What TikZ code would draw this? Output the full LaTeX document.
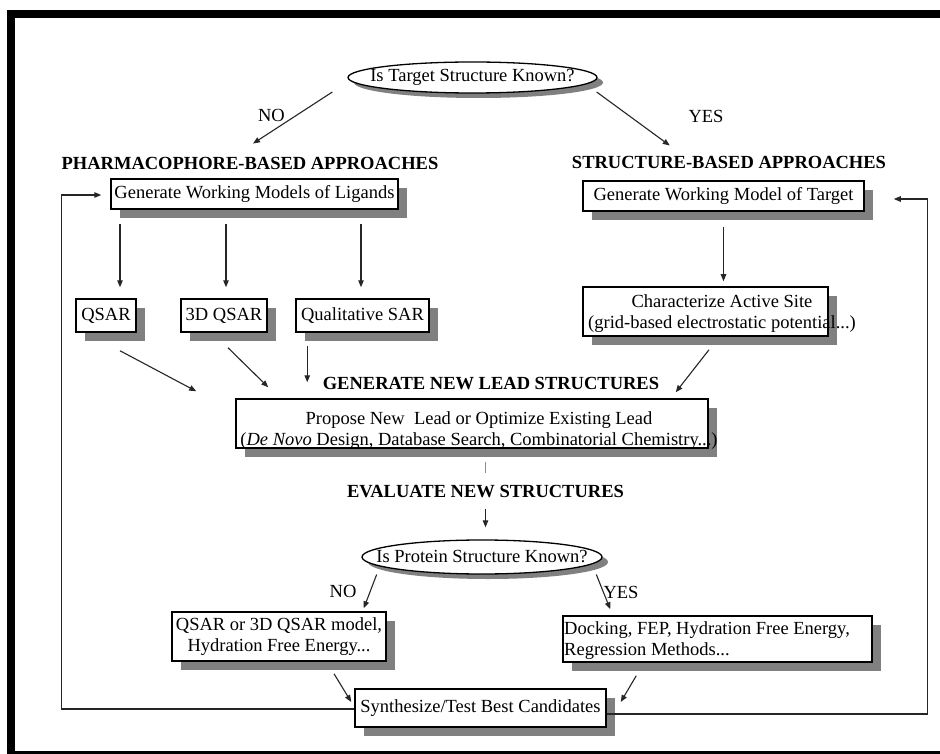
\documentclass[tikz,border=0pt]{standalone}
\usepackage{fontspec}
\setmainfont{Liberation Serif}
\usetikzlibrary{shapes.geometric,shadows,arrows.meta,calc}
\begin{document}
\begin{tikzpicture}[x=1pt,y=-1pt,
  font=\fontsize{18.5}{21}\selectfont,
  box/.style={rectangle, draw=black, line width=1.5pt, fill=white, inner sep=0pt,
    drop shadow={shadow xshift=9pt, shadow yshift=-9pt, fill=black!50, opacity=1}},
  ell/.style={ellipse, draw=black, line width=1.3pt, fill=white, inner sep=0pt,
    drop shadow={shadow xshift=6pt, shadow yshift=-5pt, fill=black!50, opacity=1}},
  head/.style={font=\fontsize{18.5}{21}\selectfont\bfseries, inner sep=0pt, anchor=base},
  lbl/.style={inner sep=0pt, anchor=base},
  txt/.style={inner sep=0pt},
  arr/.style={draw=black!85, line width=1.1pt, -{Triangle[length=7pt,width=5.5pt]}},
  gline/.style={draw=black!45, line width=1.1pt},
]
% page and frame
\fill[white] (0,0) rectangle (940,754);
\useasboundingbox (0,0) rectangle (940,754);
\fill[black] (7,10) rectangle (940,18);
\fill[black] (7,10) rectangle (15,754);
\fill[black] (7,751) rectangle (940,754);

% top question
\node[ell, minimum width=249pt, minimum height=31pt] (ell1) at (472.5,77.5) {\makebox[0pt]{Is Target Structure Known?}};
\node[lbl] (no1) at (271.5,122) {NO};
\node[lbl] (yes1) at (706,123) {YES};
\node[head] (pharm) at (250,170) {PHARMACOPHORE-BASED APPROACHES};
\node[head] (struct) at (729,169) {STRUCTURE-BASED APPROACHES};

% models
\node[box, minimum width=287pt, minimum height=30pt] (L1) at (254.5,194) {\makebox[0pt]{Generate Working Models of Ligands}};
\node[box, minimum width=281pt, minimum height=30pt] (R1) at (723.5,196) {\makebox[0pt]{Generate Working Model of Target}};

\node[box, minimum width=60pt, minimum height=33pt] (qsar) at (106,315.5) {\makebox[0pt]{QSAR}};
\node[box, minimum width=86pt, minimum height=33pt] (q3d) at (224,315.5) {\makebox[0pt]{3D QSAR}};
\node[box, minimum width=133pt, minimum height=33pt] (qual) at (362.5,315.5) {\makebox[0pt]{Qualitative SAR}};
\node[box, minimum width=245pt, minimum height=49pt] (char) at (705.5,311.5) {};
\node[txt] (chartxt) at (722,314) {\begin{tabular}{@{}c@{}}Characterize Active Site\\(grid-based electrostatic potential...)\end{tabular}};

% lead
\node[head] (genh) at (491,389) {GENERATE NEW LEAD STRUCTURES};
\node[box, minimum width=472pt, minimum height=49pt] (lead) at (472,423.5) {};
\node[txt] (leadtxt) at (479,431) {\begin{tabular}{@{}c@{}}Propose New\ \ Lead or Optimize Existing Lead\\(\textit{De Novo} Design, Database Search, Combinatorial Chemistry...)\end{tabular}};

% evaluation
\node[head, inner ysep=11.5pt] (evalh) at (485.5,497) {EVALUATE NEW STRUCTURES};
\node[ell, minimum width=240pt, minimum height=34pt] (ell2) at (482,557) {\makebox[0pt]{Is Protein Structure Known?}};
\node[lbl] (no2) at (343,597) {NO};
\node[lbl] (yes2) at (621,598) {YES};
\node[box, minimum width=214pt, minimum height=49pt] (nobox) at (279,636.5) {\makebox[0pt]{\begin{tabular}{@{}c@{}}QSAR or 3D QSAR model,\\Hydration Free Energy...\end{tabular}}};
\node[box, minimum width=309pt, minimum height=46pt] (yesbox) at (717.5,639) {};
\node[txt, anchor=west] (yestxt) at (564,641) {\begin{tabular}{@{}l@{}}Docking, FEP, Hydration Free Energy,\\Regression Methods...\end{tabular}};
\node[box, minimum width=251pt, minimum height=38pt] (synth) at (480.5,708) {\makebox[0pt]{Synthesize/Test Best Candidates}};

% connectors
\draw[arr] ($(ell1.west)+(-15,14.5)$) -- ($(pharm.north)+(3,-14)$);
\draw[arr] ($(ell1.east)+(-1,14.5)$) -- ($(struct.north west)+(98,-11)$);

\draw[arr] ($(L1.south -| qsar.north)+(14,14)$) -- ($(qsar.north)+(14,-11)$);
\draw[arr] ($(L1.south -| q3d.north)+(2,14)$) -- ($(q3d.north)+(2,-11)$);
\draw[arr] ($(L1.south -| qual.north)+(-1.5,14)$) -- ($(qual.north)+(-1.5,-11)$);
\draw[arr] ($(R1.south)+(0,15)$) -- ($(R1.south |- char.north)+(0,-5)$);

\draw[arr] ($(qsar.south)+(14,18)$) -- ($(lead.north west)+(-39,-7)$);
\draw[arr] ($(q3d.south)+(4,15)$) -- ($(lead.north west)+(33,-11)$);
\draw[arr] ($(qual.south west)+(12,13)$) -- ($(qual.south west |- lead.north)+(12,-16)$);
\draw[arr] ($(char.south)+(3.5,13)$) -- ($(lead.north east)+(-33,-6)$);

\draw[gline] ($(lead.south -| evalh.north)+(0,13)$) -- (evalh.north);
\draw[arr] (evalh.south) -- ($(ell2.north -| evalh.south)+(0,-12)$);

\draw[arr] ($(ell2.south west)+(-20,5)$) -- ($(nobox.north east)+(-23,-3)$);
\draw[arr] ($(ell2.south east)+(29,5)$) -- ($(yesbox.north west)+(48,-6)$);

\draw[arr] ($(nobox.south)+(55,12)$) -- ($(synth.west)+(-3,-6)$);
\draw[arr] ($(yesbox.south west)+(74,13)$) -- ($(synth.east)+(14,-6)$);

\draw[arr] ($(synth.west)+(0,1)$) -| ($(L1.west)+(-49,1)$) -- ($(L1.west)+(-9,1)$);
\draw[arr] ($(synth.east)+(0,6)$) -| ($(R1.east)+(63,3)$) -- ($(R1.east)+(29,3)$);
\end{tikzpicture}
\end{document}
